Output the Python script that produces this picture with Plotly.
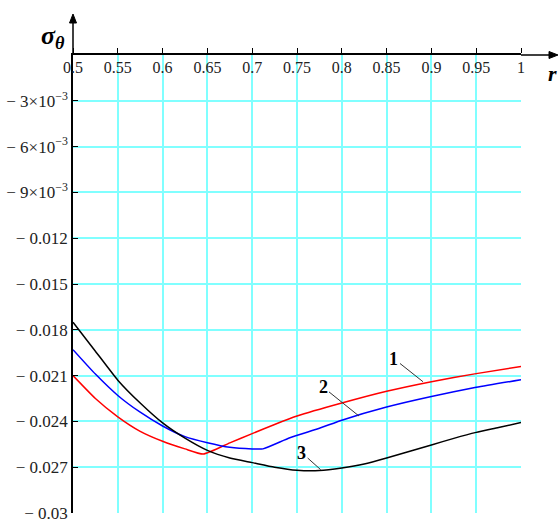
import plotly.graph_objects as go

# ---- data ----
x_red = [0.5, 0.525, 0.55, 0.575, 0.6, 0.625, 0.6454, 0.675, 0.7, 0.725, 0.75, 0.8, 0.85, 0.9, 0.95, 1.0]
y_red = [-0.0210, -0.0225, -0.0237, -0.02465, -0.0253, -0.0258, -0.02614, -0.02541, -0.0248,
         -0.0242, -0.02365, -0.02280, -0.02203, -0.02140, -0.02087, -0.02040]

x_blue = [0.5, 0.525, 0.55, 0.575, 0.6, 0.625, 0.65, 0.675, 0.7, 0.712, 0.742, 0.775, 0.8, 0.85,
          0.9, 0.95, 1.0]
y_blue = [-0.0193, -0.0209, -0.0223, -0.0234, -0.0243, -0.0250, -0.0254, -0.0257, -0.0258, -0.0258,
          -0.02507, -0.02445, -0.02392, -0.02306, -0.02237, -0.02177, -0.02127]

x_black = [0.5, 0.525, 0.55, 0.575, 0.6, 0.625, 0.65, 0.675, 0.7, 0.725, 0.75, 0.775, 0.8,
           0.825, 0.85, 0.875, 0.9, 0.925, 0.95, 0.975, 1.0]
y_black = [-0.0175, -0.0194, -0.0213, -0.0228, -0.0241, -0.0251, -0.0259, -0.0264, -0.0267,
           -0.0270, -0.0272, -0.02722, -0.02705, -0.02679, -0.0264, -0.02597, -0.02554, -0.02511,
           -0.02472, -0.0244, -0.02407]

x_ticks = [0.5, 0.55, 0.6, 0.65, 0.7, 0.75, 0.8, 0.85, 0.9, 0.95, 1.0]
x_tick_text = ["0.5", "0.55", "0.6", "0.65", "0.7", "0.75", "0.8", "0.85", "0.9", "0.95", "1"]
y_ticks = [-0.003, -0.006, -0.009, -0.012, -0.015, -0.018, -0.021, -0.024, -0.027, -0.03]
y_tick_text = ["− 3×10<sup>−3</sup>", "− 6×10<sup>−3</sup>", "− 9×10<sup>−3</sup>", "− 0.012",
               "− 0.015", "− 0.018", "− 0.021", "− 0.024", "− 0.027", "− 0.03"]

curve_labels = ["1", "2", "3"]
label_x = [0.8906, 0.8192, 0.7764]
label_y = [-0.0214, -0.02365, -0.02716]
label_off = [(-29, -23), (-36, -29), (-19, -17)]

FONT = "Liberation Serif"
GRID = "#80FFFF"
SPL = dict(width=1.5, shape="spline", smoothing=0.5)

# plot area in page pixels: x 73..521, y 55..513
TOP, BOT = 55, 513
PW, PH = 448.0, float(BOT - TOP)

fig = go.Figure()
fig.add_trace(go.Scatter(x=x_red, y=y_red, mode="lines", xaxis="x", yaxis="y",
                         line=dict(color="#FF0000", **SPL), showlegend=False))
fig.add_trace(go.Scatter(x=x_blue, y=y_blue, mode="lines", xaxis="x", yaxis="y",
                         line=dict(color="#0000FF", **SPL), showlegend=False))
fig.add_trace(go.Scatter(x=x_black, y=y_black, mode="lines", xaxis="x2", yaxis="y",
                         line=dict(color="#000000", **SPL), showlegend=False))

fig.update_layout(
    width=559, height=527,
    margin=dict(l=73, r=38, t=TOP, b=527 - BOT, autoexpand=False),
    paper_bgcolor="white", plot_bgcolor="white",
    font=dict(family=FONT, size=16, color="#222222"),
    xaxis=dict(range=[0.5, 1.0], side="top", tickvals=x_ticks, showticklabels=False,
               showgrid=True, gridcolor=GRID, gridwidth=1.5,
               showline=True, linecolor="black", linewidth=1.5,
               ticks="outside", ticklen=5, tickcolor="black", tickwidth=1,
               zeroline=False, fixedrange=True, automargin=False),
    xaxis2=dict(range=[0.5, 1.0], matches="x", overlaying="x", side="bottom",
                anchor="free", position=1.0, tickvals=x_ticks, ticktext=x_tick_text,
                tickfont=dict(family=FONT, size=16, color="#222222"),
                showgrid=False, showline=False, ticks="", ticklabelstandoff=1,
                zeroline=False, fixedrange=True, automargin=False),
    yaxis=dict(range=[-0.03, 0.0], tickvals=y_ticks, ticktext=y_tick_text,
               tickfont=dict(family=FONT, size=17, color="#222222"),
               showgrid=True, gridcolor=GRID, gridwidth=1.5,
               showline=True, linecolor="black", linewidth=1.5,
               ticks="inside", ticklen=5, tickcolor="black", tickwidth=1,
               ticklabelstandoff=0, zeroline=False, fixedrange=True, automargin=False),
)

# axis arrows (decorations in paper coordinates)
xt = (558 - 73) / PW          # x-axis arrow tip
yt = (BOT - 14) / PH          # y-axis arrow tip
fig.add_shape(type="line", xref="paper", yref="paper", x0=1.0, y0=1.0, x1=xt - 6 / PW, y1=1.0,
              line=dict(color="black", width=1.5))
fig.add_shape(type="path", xref="paper", yref="paper",
              path=f"M {xt} 1 L {xt - 9 / PW} {1 + 3.5 / PH} L {xt - 9 / PW} {1 - 3.5 / PH} Z",
              fillcolor="black", line=dict(color="black", width=1))
fig.add_shape(type="line", xref="paper", yref="paper", x0=0.0, y0=1.0, x1=0.0, y1=yt - 6 / PH,
              line=dict(color="black", width=1.5))
fig.add_shape(type="path", xref="paper", yref="paper",
              path=f"M 0 {yt} L {-3.5 / PW} {yt - 9 / PH} L {3.5 / PW} {yt - 9 / PH} Z",
              fillcolor="black", line=dict(color="black", width=1))

# axis titles (page pixel centres: sigma ~ (53,37), r ~ (552,73))
fig.add_annotation(xref="paper", yref="paper", x=(53 - 73) / PW, y=(BOT - 37) / PH,
                   xanchor="center", yanchor="middle",
                   text="<b><i>σ<sub>θ</sub></i></b>", showarrow=False,
                   font=dict(family=FONT, size=26, color="black"))
fig.add_annotation(xref="paper", yref="paper", x=(552 - 73) / PW, y=(BOT - 73) / PH,
                   xanchor="center", yanchor="middle",
                   text="<b><i>r</i></b>", showarrow=False,
                   font=dict(family=FONT, size=22, color="black"))

# curve labels
for t, lx, ly, (dx, dy) in zip(curve_labels, label_x, label_y, label_off):
    fig.add_annotation(x=lx, y=ly, ax=dx, ay=dy, text="<b>" + t + "</b>", showarrow=True,
                       arrowhead=0, arrowwidth=1, arrowcolor="#333333",
                       font=dict(family=FONT, size=18, color="black"))

fig.write_html("out.html", config={"displayModeBar": False},
               post_script="document.body.style.margin='0px';")
